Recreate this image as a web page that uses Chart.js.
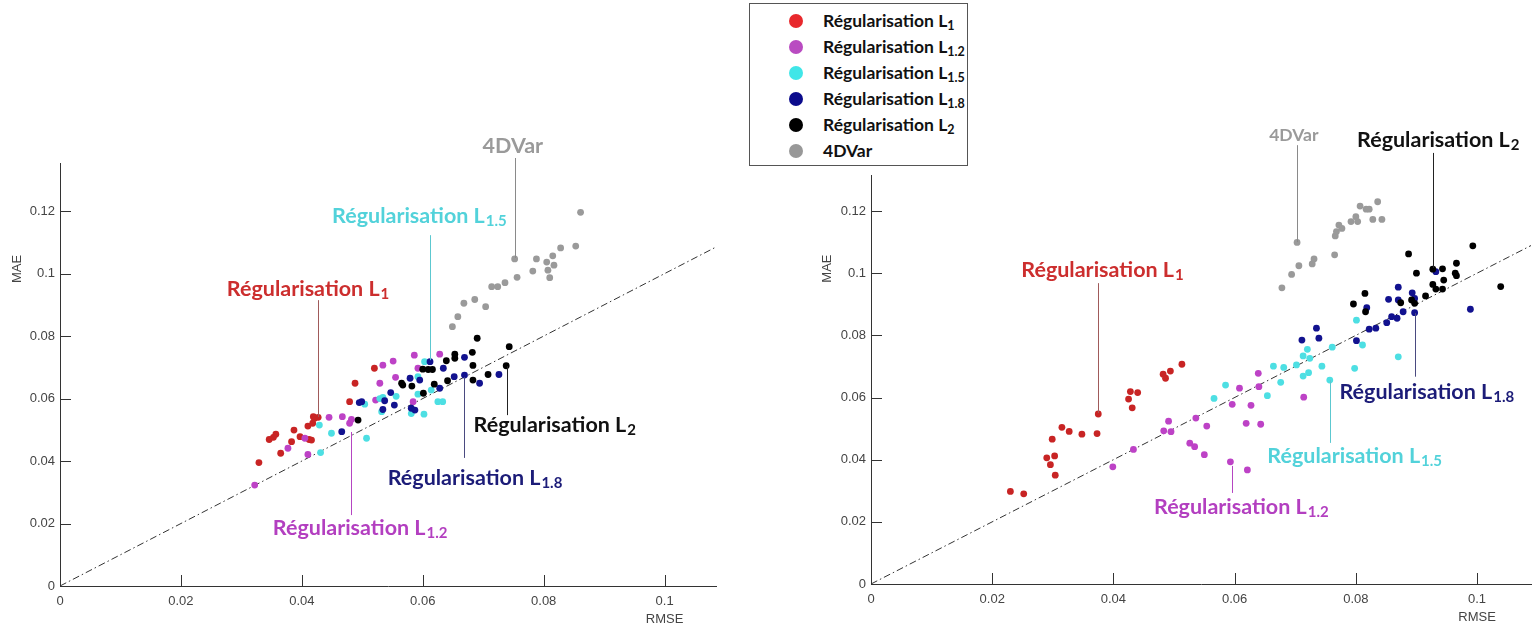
<!DOCTYPE html>
<html>
<head>
<meta charset="utf-8">
<script src="https://cdn.jsdelivr.net/npm/chart.js@4.4.1/dist/chart.umd.min.js"></script>
<style>
  body { margin: 0; background: #fff; width: 1535px; height: 628px; overflow: hidden; position: relative; }
  #leftChart { position: absolute; left: 0; top: 0; }
  #rightChart { position: absolute; left: 780px; top: 0; }
  #legend { position: absolute; left: 749px; top: 3px; width: 217px; height: 157px; border: 1px solid #555; background: #fff;
            box-sizing: content-box; padding-top: 4px; font-family: Lato, 'Open Sans', sans-serif; font-weight: bold; font-size: 17.5px; color: #111; overflow: hidden; }
  .row { position: relative; height: 26px; }
  .dot { position: absolute; left: 39px; top: 6px; width: 14px; height: 14px; border-radius: 50%; }
  .lab { position: absolute; left: 73px; top: 2px; white-space: nowrap; }
  .lab sub { font-size: 12.5px; vertical-align: -3px; }
</style>
</head>
<body>
<canvas id="leftChart" width="740" height="628"></canvas>
<canvas id="rightChart" width="755" height="628"></canvas>
<div id="legend"></div>
<script>
// series: [RMSE, MAE]
const seriesNames = ['Régularisation L', 'Régularisation L', 'Régularisation L', 'Régularisation L', 'Régularisation L', '4DVar'];
const seriesSubs = ['1', '1.2', '1.5', '1.8', '2', ''];

const leftL1 = [[0.0329,0.0395],[0.0346,0.0469],[0.0353,0.0476],[0.0357,0.0486],[0.0365,0.0425],[0.0383,0.0462],[0.0387,0.0499],[0.0397,0.0478],[0.0412,0.0469],[0.0416,0.0467],[0.041,0.0512],[0.0418,0.0521],[0.0421,0.0537],[0.0427,0.054],[0.0419,0.0542],[0.0479,0.059],[0.0488,0.0649],[0.052,0.0697]];
const leftL12 = [[0.0322,0.0323],[0.0377,0.0441],[0.0405,0.0473],[0.041,0.0421],[0.0445,0.054],[0.0467,0.0542],[0.0479,0.0521],[0.0482,0.0533],[0.0522,0.0595],[0.0529,0.0649],[0.0534,0.0707],[0.0551,0.072],[0.0555,0.0668],[0.0586,0.0739],[0.0584,0.059],[0.0628,0.0742],[0.0592,0.0697]];
const leftL15 = [[0.0429,0.0515],[0.0431,0.0427],[0.0449,0.0489],[0.0507,0.0473],[0.0504,0.0582],[0.0529,0.06],[0.0534,0.0604],[0.0556,0.0607],[0.0532,0.0558],[0.0581,0.0552],[0.0602,0.055],[0.0592,0.0614],[0.0614,0.0627],[0.0625,0.059],[0.0633,0.059],[0.0592,0.067],[0.0603,0.0718]];
const leftL18 = [[0.0466,0.0494],[0.0495,0.0587],[0.0499,0.059],[0.0537,0.0593],[0.0547,0.0619],[0.0534,0.0565],[0.0553,0.0579],[0.0579,0.0665],[0.0581,0.0569],[0.0587,0.0563],[0.0595,0.0659],[0.0612,0.0718],[0.0634,0.0697],[0.0628,0.0633],[0.0652,0.067],[0.0669,0.0732],[0.0669,0.0675],[0.0694,0.0649],[0.0726,0.0677]];
const leftL2 = [[0.0493,0.0531],[0.0565,0.0649],[0.0567,0.0643],[0.0582,0.064],[0.0601,0.0617],[0.06,0.0694],[0.0609,0.0693],[0.0616,0.0693],[0.0619,0.0646],[0.0639,0.0721],[0.0641,0.0657],[0.0653,0.0742],[0.0653,0.0729],[0.0682,0.0748],[0.0683,0.0706],[0.069,0.0793],[0.0683,0.0659],[0.0708,0.0677],[0.0743,0.0766],[0.0738,0.0705]];
const left4DVar = [[0.0861,0.1196],[0.0853,0.1088],[0.0828,0.1082],[0.0815,0.1057],[0.0805,0.1037],[0.0817,0.1027],[0.0807,0.1011],[0.081,0.0987],[0.0788,0.1047],[0.0782,0.1008],[0.0752,0.1047],[0.0756,0.0988],[0.0736,0.0971],[0.0714,0.0958],[0.0724,0.0958],[0.0704,0.0894],[0.0686,0.0917],[0.0668,0.0905],[0.0658,0.0862],[0.0649,0.083]];

const rightL1 = [[0.023,0.0298],[0.0252,0.029],[0.029,0.0406],[0.0303,0.0412],[0.0296,0.0384],[0.0304,0.035],[0.0299,0.0466],[0.0315,0.0504],[0.0327,0.0491],[0.0348,0.0482],[0.0373,0.0484],[0.0375,0.0547],[0.0425,0.0595],[0.0428,0.0619],[0.044,0.0616],[0.0431,0.0567],[0.0482,0.0675],[0.0486,0.0662],[0.0494,0.0685],[0.0513,0.0707]];
const rightL12 = [[0.0399,0.0377],[0.0433,0.0433],[0.0483,0.0493],[0.0495,0.049],[0.0491,0.0524],[0.0536,0.0534],[0.0554,0.0508],[0.0526,0.0453],[0.0534,0.0442],[0.055,0.0416],[0.0639,0.0678],[0.0608,0.063],[0.064,0.0635],[0.0596,0.0578],[0.0627,0.0575],[0.0714,0.0601],[0.0619,0.0517],[0.0643,0.0514],[0.0593,0.0393],[0.0621,0.0367]];
const rightL15 = [[0.0566,0.0597],[0.0585,0.064],[0.0654,0.0606],[0.0664,0.0701],[0.0676,0.0649],[0.0681,0.0697],[0.0702,0.0705],[0.0713,0.0734],[0.072,0.0755],[0.0713,0.0669],[0.0722,0.068],[0.0724,0.0726],[0.0744,0.0701],[0.0757,0.0656],[0.0761,0.0762],[0.0798,0.0694],[0.0801,0.0849],[0.0811,0.0769],[0.087,0.0731]];
const rightL18 = [[0.0711,0.0785],[0.0735,0.0823],[0.0739,0.0791],[0.0801,0.0783],[0.0818,0.0889],[0.0822,0.082],[0.0833,0.0823],[0.0851,0.0841],[0.0859,0.086],[0.0868,0.0855],[0.0854,0.0916],[0.087,0.0914],[0.0878,0.0876],[0.087,0.0955],[0.0893,0.0937],[0.0897,0.0919],[0.0897,0.0873],[0.0932,0.1005],[0.0989,0.0884]];
const rightL2 = [[0.0796,0.0901],[0.0815,0.0935],[0.0816,0.0876],[0.0874,0.0905],[0.0887,0.1062],[0.0892,0.0914],[0.0897,0.0903],[0.09,0.1],[0.0915,0.0927],[0.0927,0.1013],[0.0943,0.1014],[0.0927,0.0964],[0.0932,0.0949],[0.0945,0.0978],[0.0943,0.0949],[0.0966,0.1032],[0.0964,0.1],[0.0966,0.0992],[0.0993,0.1088],[0.1039,0.0957]];
const right4DVar = [[0.0678,0.0953],[0.0694,0.0996],[0.0706,0.1024],[0.0703,0.1099],[0.0728,0.103],[0.0731,0.1046],[0.0765,0.1059],[0.0766,0.112],[0.0768,0.1134],[0.0772,0.1155],[0.0777,0.1144],[0.0792,0.1166],[0.08,0.1182],[0.0803,0.1166],[0.0807,0.1216],[0.0817,0.1206],[0.0822,0.1206],[0.0828,0.1173],[0.0836,0.123],[0.0843,0.1173]];

const xTicks = [0, 0.02, 0.04, 0.06, 0.08, 0.1];
const yTicks = [0, 0.02, 0.04, 0.06, 0.08, 0.1, 0.12];
const diagonal = [0, 0.11];  // MAE = RMSE reference line

// styles
const pointColors = ['#c82424', '#bd42c6', '#4ddfe3', '#12128f', '#000000', '#9a9a9a'];
const legendColors = ['#e8282c', '#b94bc1', '#40e6e8', '#0b0b8c', '#000000', '#989898'];
const noteColors = ['#cc2e2e', '#b33fc0', '#52d2da', '#1c1c78', '#111111', '#9a9a9a'];
const lineColors = ['#a05a5a', '#b545c2', '#5cc8d0', '#4a4a80', '#222222', '#8a8a8a'];

// annotation placement (data coords): text left/baseline, leader line x and y range
const leftNotes = [
  { s: 5, tx: 0.0699, ty: 0.1386, lx: 0.0752, ly: [0.137, 0.105] },
  { s: 2, tx: 0.045, ty: 0.1162, lx: 0.0612, ly: [0.1123, 0.0723] },
  { s: 0, tx: 0.0276, ty: 0.0927, lx: 0.0426, ly: [0.0915, 0.0541] },
  { s: 1, tx: 0.0352, ty: 0.0163, lx: 0.0481, ly: [0.0493, 0.0227] },
  { s: 3, tx: 0.0542, ty: 0.0323, lx: 0.0668, ly: [0.0669, 0.041] },
  { s: 4, tx: 0.0684, ty: 0.0493, lx: 0.074, ly: [0.0704, 0.0547] }
];
const rightNotes = [
  { s: 5, tx: 0.0657, ty: 0.1427, lx: 0.0703, ly: [0.1412, 0.11], size: 17.5 },
  { s: 4, tx: 0.0802, ty: 0.1407, lx: 0.0928, ly: [0.1387, 0.1017] },
  { s: 0, tx: 0.0248, ty: 0.0989, lx: 0.0375, ly: [0.0968, 0.055] },
  { s: 3, tx: 0.0773, ty: 0.0594, lx: 0.0897, ly: [0.0872, 0.0667] },
  { s: 2, tx: 0.0654, ty: 0.0389, lx: 0.0757, ly: [0.0656, 0.0454] },
  { s: 1, tx: 0.0467, ty: 0.0225, lx: 0.0595, ly: [0.038, 0.0293] }
];

const tickFont = { family: "'Liberation Sans', Arial, sans-serif", size: 13 };
const noteFont = "Lato, 'Open Sans', sans-serif";

// inward tick marks, axis titles
const axisDecor = {
  id: 'axisDecor',
  afterDraw(chart, args, opts) {
    const { ctx, chartArea, scales: { x, y } } = chart;
    ctx.save();
    ctx.strokeStyle = '#333';
    ctx.lineWidth = 1;
    ctx.beginPath();
    xTicks.forEach(v => {
      if (v === 0) return;
      const px = Math.round(x.getPixelForValue(v)) + 0.5;
      ctx.moveTo(px, chartArea.bottom);
      ctx.lineTo(px, chartArea.bottom - 11);
    });
    yTicks.forEach(v => {
      if (v === 0) return;
      const py = Math.round(y.getPixelForValue(v)) + 0.5;
      ctx.moveTo(chartArea.left, py);
      ctx.lineTo(chartArea.left + 11, py);
    });
    ctx.stroke();
    ctx.fillStyle = '#444';
    ctx.font = "13px 'Liberation Sans', Arial, sans-serif";
    ctx.textAlign = 'center';
    ctx.textBaseline = 'middle';
    ctx.fillText('RMSE', x.getPixelForValue(0.1), chartArea.bottom + 33);
    ctx.translate(opts.maeX, y.getPixelForValue(0.1015));
    ctx.rotate(-Math.PI / 2);
    ctx.fillText('MAE', 0, 0);
    ctx.restore();
  }
};

// labels with leader lines
const notes = {
  id: 'notes',
  afterDatasetsDraw(chart, args, opts) {
    const { ctx, scales: { x, y } } = chart;
    ctx.save();
    opts.list.forEach(n => {
      const lx = Math.round(x.getPixelForValue(n.lx)) + 0.5;
      ctx.strokeStyle = lineColors[n.s];
      ctx.lineWidth = 1;
      ctx.beginPath();
      ctx.moveTo(lx, y.getPixelForValue(n.ly[0]));
      ctx.lineTo(lx, y.getPixelForValue(n.ly[1]));
      ctx.stroke();

      const size = n.size || 21.5;
      const tx = x.getPixelForValue(n.tx);
      const ty = y.getPixelForValue(n.ty);
      ctx.fillStyle = noteColors[n.s];
      ctx.textAlign = 'left';
      ctx.textBaseline = 'alphabetic';
      ctx.font = 'bold ' + size + 'px ' + noteFont;
      ctx.fillText(seriesNames[n.s], tx, ty);
      const w = ctx.measureText(seriesNames[n.s]).width;
      if (seriesSubs[n.s]) {
        ctx.font = 'bold 15px ' + noteFont;
        ctx.fillText(seriesSubs[n.s], tx + w + 1, ty + 3);
      }
    });
    ctx.restore();
  }
};

function makeChart(id, sets, notesList, cfg) {
  const datasets = sets.map((arr, i) => ({
    type: 'scatter',
    label: seriesNames[i] + seriesSubs[i],
    data: arr.map(p => ({ x: p[0], y: p[1] })),
    backgroundColor: pointColors[i],
    borderWidth: 0,
    pointRadius: 3.4,
    order: 6 - i
  }));
  datasets.push({
    type: 'line',
    label: 'y = x',
    data: diagonal.map(v => ({ x: v, y: v })),
    borderColor: '#333',
    borderWidth: 1,
    borderDash: [7, 3, 1.5, 3],
    pointRadius: 0,
    order: 10
  });
  return new Chart(document.getElementById(id), {
    data: { datasets },
    options: {
      responsive: false,
      animation: false,
      layout: { padding: { top: cfg.top, right: cfg.right, left: 0, bottom: 0 } },
      plugins: {
        legend: { display: false },
        tooltip: { enabled: false },
        axisDecor: { maeX: cfg.maeX },
        notes: { list: notesList }
      },
      scales: {
        x: {
          type: 'linear', min: 0, max: cfg.xMax,
          afterBuildTicks: s => { s.ticks = xTicks.map(v => ({ value: v })); },
          afterFit: s => { s.height = cfg.xH; },
          grid: { display: true, drawOnChartArea: false, drawTicks: false },
          border: { display: true, color: '#333', width: 1 },
          ticks: { font: tickFont, color: '#444', padding: 8, maxRotation: 0, autoSkip: false,
                   callback: v => String(+v.toFixed(2)) }
        },
        y: {
          type: 'linear', min: 0, max: cfg.yMax,
          afterBuildTicks: s => { s.ticks = yTicks.map(v => ({ value: v })); },
          afterFit: s => { s.width = cfg.yW; },
          grid: { display: true, drawOnChartArea: false, drawTicks: false },
          border: { display: true, color: '#333', width: 1 },
          ticks: { font: tickFont, color: '#444', padding: 5, autoSkip: false,
                   callback: v => String(+v.toFixed(2)) }
        }
      }
    },
    plugins: [axisDecor, notes]
  });
}

makeChart('leftChart', [leftL1, leftL12, leftL15, leftL18, leftL2, left4DVar], leftNotes,
  { top: 163, right: 24, xMax: 0.1085, yMax: 0.1354, xH: 42, yW: 60, maeX: 17 });
makeChart('rightChart', [rightL1, rightL12, rightL15, rightL18, rightL2, right4DVar], rightNotes,
  { top: 175, right: 0, xMax: 0.1089, yMax: 0.1316, xH: 44, yW: 91, maeX: 47 });

// legend box
const legend = document.getElementById('legend');
seriesNames.forEach((name, i) => {
  const row = document.createElement('div');
  row.className = 'row';
  row.innerHTML = `<span class="dot" style="background:${legendColors[i]}"></span>` +
    `<span class="lab">${name}${seriesSubs[i] ? '<sub>' + seriesSubs[i] + '</sub>' : ''}</span>`;
  legend.appendChild(row);
});
</script>
</body>
</html>
